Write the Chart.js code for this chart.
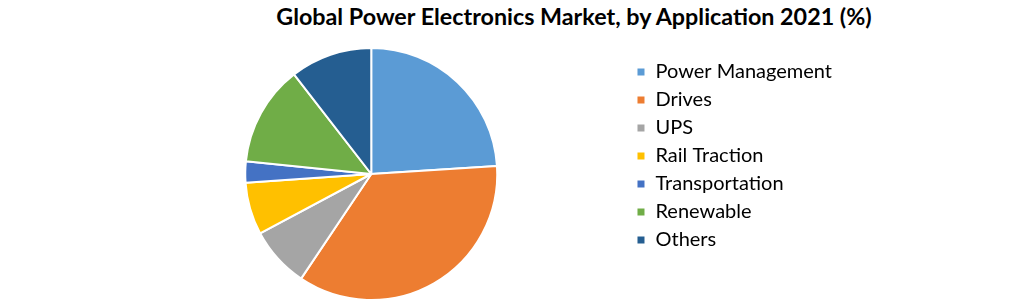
<!DOCTYPE html>
<html><head><meta charset="utf-8">
<script src="https://cdn.jsdelivr.net/npm/chart.js@4"></script>
<style>
html,body{margin:0;padding:0;background:#fff;}
#wrap{position:relative;width:1021px;height:304px;}
#title{position:absolute;left:0;width:1148px;top:2px;text-align:center;font-family:Lato,"Open Sans",sans-serif;font-weight:bold;font-size:23.3px;color:#000;}
canvas{position:absolute;left:0;top:0;}
</style></head>
<body>
<div id="wrap"><div id="title">Global Power Electronics Market, by Application 2021 (%)</div><canvas id="c" width="1021" height="304"></canvas></div>
<script>
const categories = ["Power Management","Drives","UPS","Rail Traction","Transportation","Renewable","Others"];
const shares = [24.0,35.4,7.8,6.7,2.7,12.9,10.5];
const colors = ["#5b9bd5","#ed7d31","#a5a5a5","#ffc000","#4472c4","#70ad47","#255e91"];
new Chart(document.getElementById('c'),{
  type:'pie',
  data:{labels:categories,datasets:[{data:shares,backgroundColor:colors,borderColor:'#fff',borderWidth:2}]},
  options:{
    responsive:false,animation:false,
    layout:{padding:{left:114,right:179,top:47,bottom:3}},
    plugins:{
      title:{display:false},
      tooltip:{enabled:false},
      legend:{position:'right',align:'start',
        title:{display:true,text:' ',font:{size:5},padding:{top:0,bottom:1}},
        labels:{boxWidth:9,boxHeight:9,padding:8,color:'#000',font:{family:'Lato, "Open Sans", sans-serif',size:20}}}
    }
  }
});
</script>
</body></html>
